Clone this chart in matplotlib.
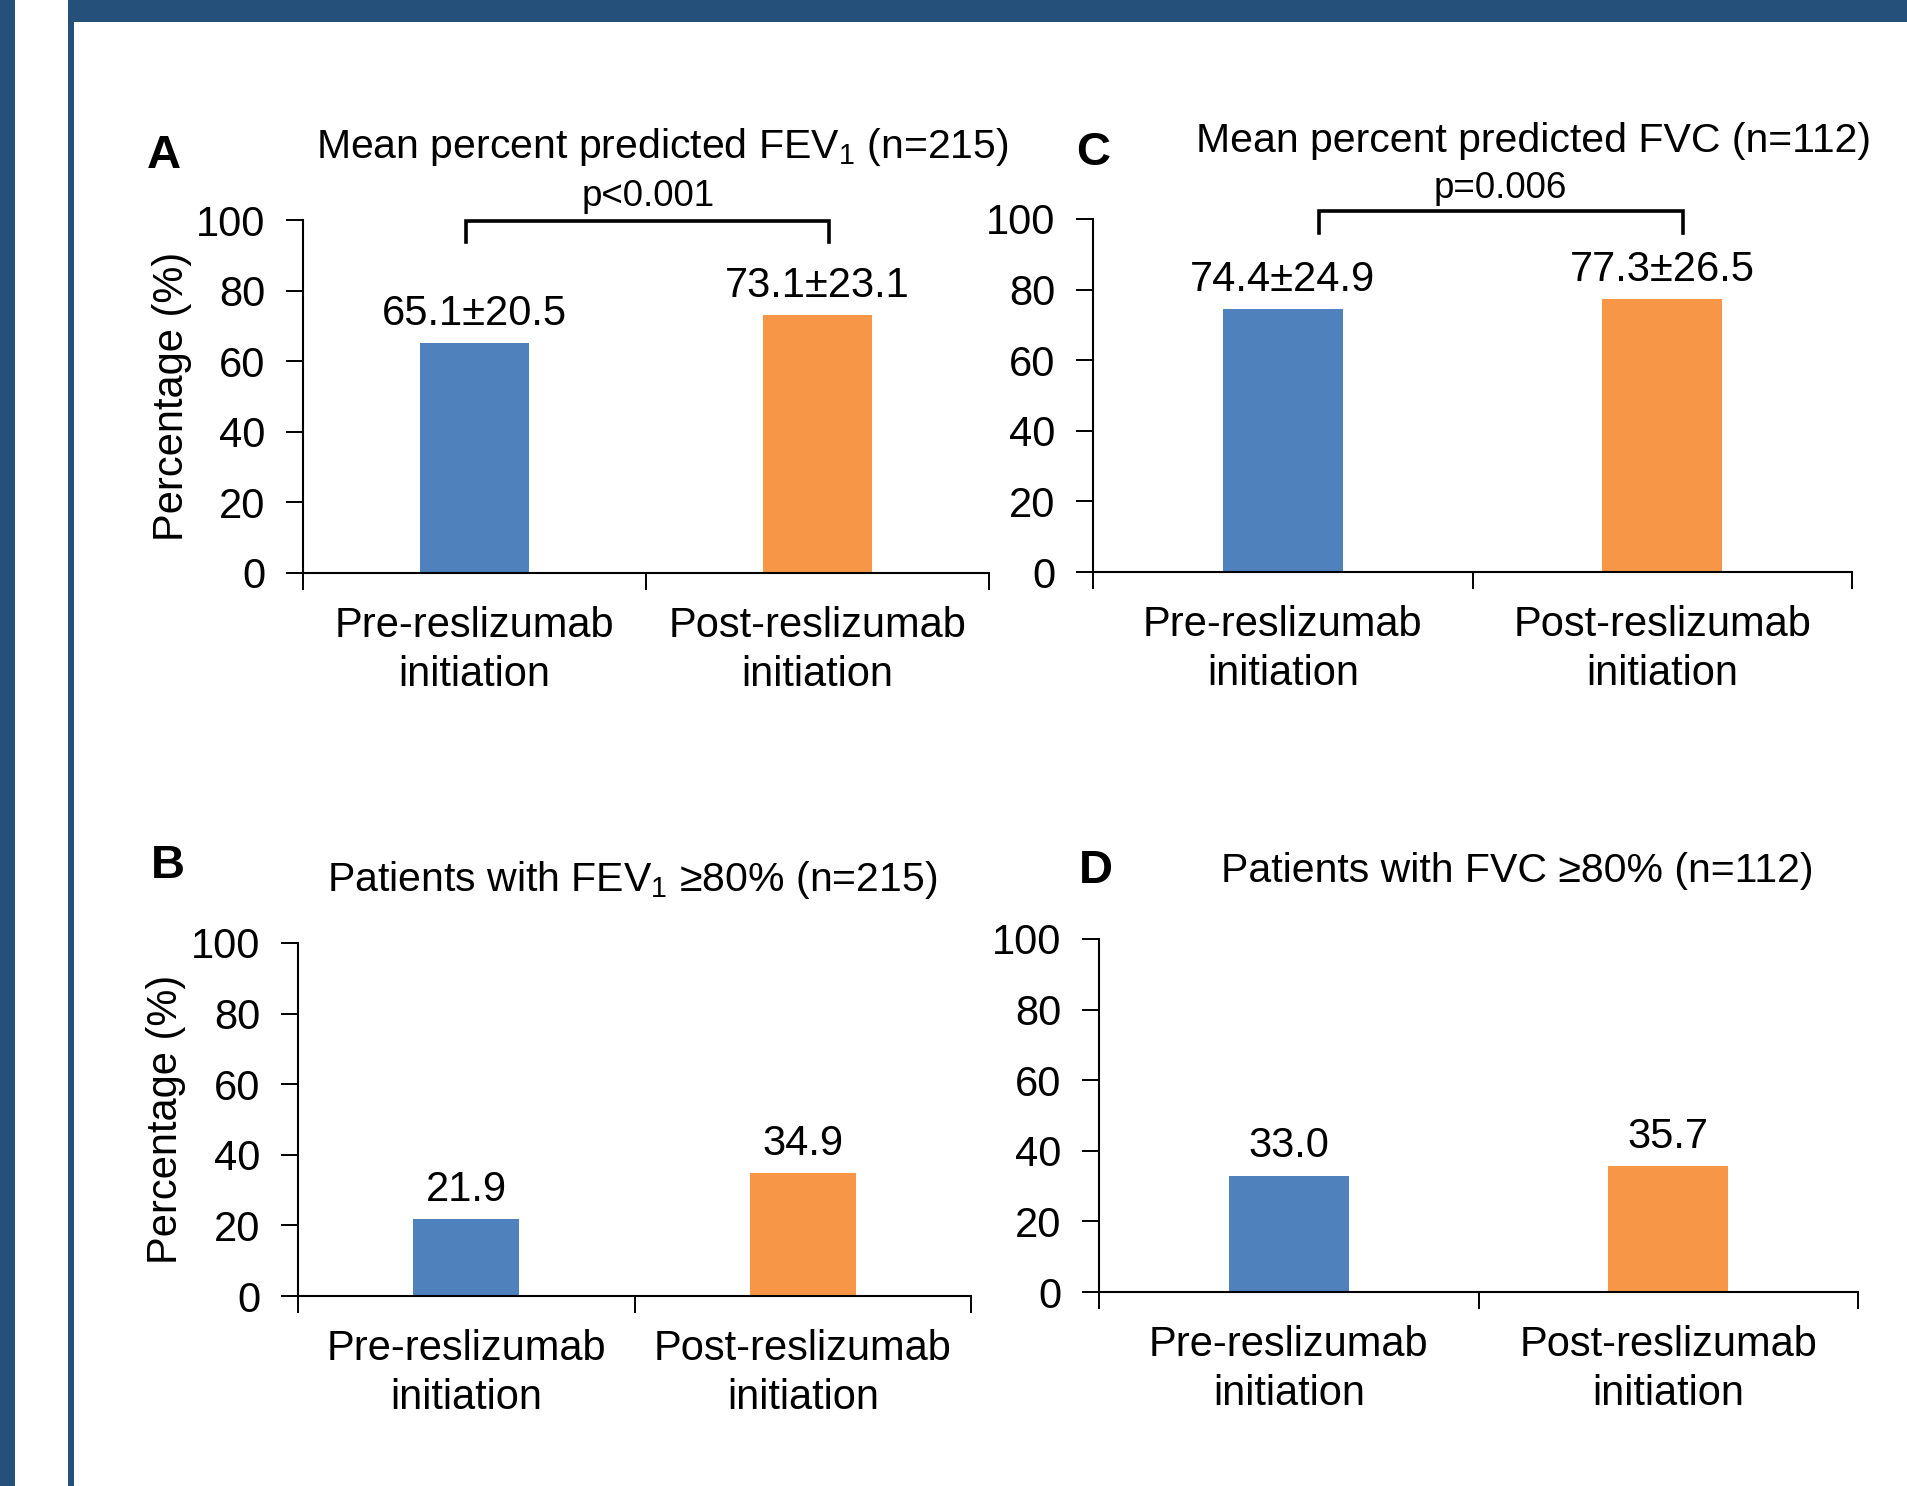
import matplotlib
matplotlib.use("Agg")
import matplotlib.pyplot as plt
from matplotlib.patches import Rectangle

plt.rcParams['font.family'] = ['Liberation Sans', 'DejaVu Sans']
plt.rcParams['mathtext.fontset'] = 'custom'
plt.rcParams['mathtext.rm'] = 'Liberation Sans'
plt.rcParams['mathtext.it'] = 'Liberation Sans'

# data
categories = ["Pre-reslizumab\ninitiation", "Post-reslizumab\ninitiation"]
fev1_mean = [65.1, 73.1]
fev1_sd = [20.5, 23.1]
fvc_mean = [74.4, 77.3]
fvc_sd = [24.9, 26.5]
fev1_80 = [21.9, 34.9]
fvc_80 = [33.0, 35.7]

colors = ["#4F81BD", "#F79646"]
frame_col = "#24507A"

W, H = 1907, 1486
fig = plt.figure(figsize=(W / 100, H / 100), dpi=100)


def px_axes(left, right, top, bottom):
    return fig.add_axes([left / W, 1 - bottom / H, (right - left) / W, (bottom - top) / H])


def bar_panel(ax, values, labels):
    x = range(len(values))
    ax.bar(x, values, width=0.315, color=colors, zorder=2)
    ax.set_xlim(-0.5, 1.5)
    ax.set_ylim(0, 100)
    ax.set_yticks([0, 20, 40, 60, 80, 100])
    ax.set_xticks([-0.5, 0.5, 1.5])
    ax.set_xticklabels([])
    ax.set_xticks([0, 1], minor=True)
    ax.set_xticklabels(categories, minor=True, fontsize=30, linespacing=1.27)
    ax.tick_params(axis='x', which='minor', length=0, pad=24)
    ax.tick_params(axis='x', which='major', length=12, width=1.4, direction='out')
    ax.tick_params(axis='y', length=12, width=1.4, direction='out', pad=15, labelsize=30)
    for s in ['top', 'right']:
        ax.spines[s].set_visible(False)
    for s in ['left', 'bottom']:
        ax.spines[s].set_linewidth(1.5)
    for i, (v, lab) in enumerate(zip(values, labels)):
        ax.annotate(lab, (i, v), xytext=(0, 13), textcoords='offset points',
                    ha='center', va='baseline', fontsize=30)


def bracket(ax, x0, x1, y, yend):
    ax.plot([x0, x0, x1, x1], [yend, y, y, yend], color='black', lw=2.6,
            clip_on=False, solid_joinstyle='miter')


# Panel A
axA = px_axes(303, 989, 220, 573)
bar_panel(axA, fev1_mean, [f"{m:.1f}±{s:.1f}" for m, s in zip(fev1_mean, fev1_sd)])
bracket(axA, -0.025, 1.034, 99.7, 93.8)
axA.set_ylabel("Percentage (%)", fontsize=30, va='center')
axA.yaxis.set_label_coords(-0.191, 0.5)

# Panel C
axC = px_axes(1093, 1852, 219, 572)
bar_panel(axC, fvc_mean, [f"{m:.1f}±{s:.1f}" for m, s in zip(fvc_mean, fvc_sd)])
bracket(axC, 0.096, 1.055, 102.3, 96.0)

# Panel B
axB = px_axes(298, 971, 943, 1296)
bar_panel(axB, fev1_80, [f"{v:.1f}" for v in fev1_80])
axB.set_ylabel("Percentage (%)", fontsize=30, va='center')
axB.yaxis.set_label_coords(-0.196, 0.5)

# Panel D
axD = px_axes(1099, 1858, 939, 1292)
bar_panel(axD, fvc_80, [f"{v:.1f}" for v in fvc_80])


def ftext(x, y, s, **kw):
    fig.text(x / W, 1 - y / H, s, ha='center', va='center', **kw)


# titles
ftext(662, 147, r"Mean percent predicted FEV$_\mathrm{1}$ (n=215)", fontsize=29.5)
ftext(1534, 141, "Mean percent predicted FVC (n=112)", fontsize=29.5)
ftext(632, 880, r"Patients with FEV$_\mathrm{1}$ ≥80% (n=215)", fontsize=29.5)
ftext(1517, 871, "Patients with FVC ≥80% (n=112)", fontsize=29.5)
# p values
ftext(648, 196, "p<0.001", fontsize=26.5)
ftext(1500, 188, "p=0.006", fontsize=26.5)
# panel letters
ftext(164, 156, "A", fontsize=34, fontweight='bold')
ftext(1093, 153, "C", fontsize=34, fontweight='bold')
ftext(168, 866, "B", fontsize=34, fontweight='bold')
ftext(1096, 871, "D", fontsize=34, fontweight='bold')

# frame
fig.add_artist(Rectangle((0, 0), 15 / W, 1, transform=fig.transFigure, color=frame_col, lw=0))
fig.add_artist(Rectangle((68 / W, 0), 6 / W, 1, transform=fig.transFigure, color=frame_col, lw=0))
fig.add_artist(Rectangle((68 / W, 1 - 22 / H), 1, 22 / H, transform=fig.transFigure, color=frame_col, lw=0))

fig.savefig("out.png", dpi=100)
